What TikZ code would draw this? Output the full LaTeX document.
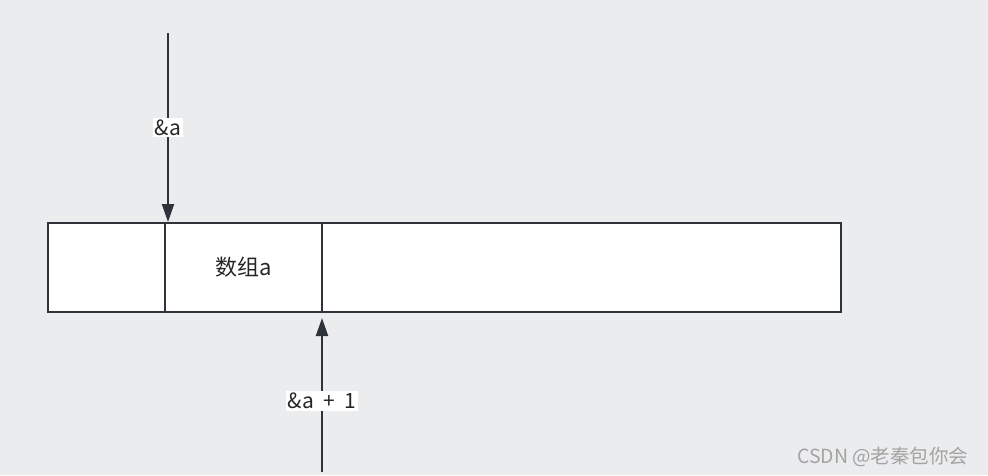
\documentclass[tikz,border=0pt]{standalone}
\usepackage{fontspec}
\setmainfont{Noto Sans CJK SC}
\usetikzlibrary{arrows.meta}
\definecolor{bg}{HTML}{EBECEE}
\definecolor{ln}{HTML}{2D3338}
\definecolor{wm}{HTML}{A3A3A3}
\tikzset{
  cell/.style={draw=ln, fill=white, line width=2pt},
  ptr/.style={draw=ln, line width=2pt, -{Triangle[length=18pt,width=12pt]}},
  lbl/.style={fill=white, inner sep=2pt, font=\fontsize{21}{24}\selectfont, text=black!85},
}
\begin{document}
\begin{tikzpicture}[x=1pt,y=-1pt]
\fill[bg] (0,0) rectangle (988,475);
\useasboundingbox (0,0) rectangle (988,475);
\node[cell, minimum width=793pt, minimum height=89pt, anchor=north west, inner sep=0pt] (arr) at (47,222) {};
\node[cell, minimum width=157pt, minimum height=89pt, anchor=north west, inner sep=0pt, font=\fontsize{22}{24}\selectfont, text=black!85] (a) at (164,222) {数组a};
\coordinate (t0) at (168,33);
\coordinate (t1) at (168,222);
\draw[ptr] (t0) -- (t1) node[lbl, pos=0.5] (la) {\&a};
\coordinate (b0) at (322,472);
\coordinate (b1) at (322,318);
\draw[ptr] (b0) -- (b1) node[lbl, pos=0.46] (lb) {\&a\hspace{0.45em}+\hspace{0.45em}1};
\node[text=wm, font=\fontsize{19.5}{22}\selectfont, anchor=east] (w) at (972,457) {CSDN @老秦包你会};
\end{tikzpicture}
\end{document}
